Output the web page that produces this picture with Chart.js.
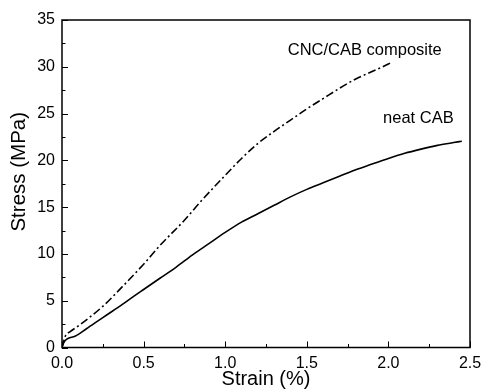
<!DOCTYPE html>
<html>
<head>
<meta charset="utf-8">
<script src="https://cdn.jsdelivr.net/npm/chart.js@4/dist/chart.umd.min.js"></script>
<style>
  html, body { margin: 0; padding: 0; background: #fff; }
  #wrap { width: 483px; height: 392px; }
</style>
</head>
<body>
<div id="wrap"><canvas id="myChart"></canvas></div>
<script>
// data
const neatStrain = [0, 0.01, 0.03, 0.08, 0.15, 0.25, 0.37, 0.45, 0.5, 0.6, 0.7, 0.8, 0.9, 1.0, 1.1, 1.2, 1.3, 1.4, 1.5, 1.6, 1.7, 1.8, 1.9, 2.0, 2.1, 2.2, 2.3, 2.4, 2.45];
const neatStress = [0, 0.5, 0.9, 1.2, 2.0, 3.2, 4.6, 5.6, 6.2, 7.4, 8.6, 9.9, 11.1, 12.3, 13.4, 14.3, 15.2, 16.1, 16.9, 17.6, 18.3, 19.0, 19.6, 20.2, 20.75, 21.2, 21.6, 21.9, 22.05];

const compStrain = [0, 0.02, 0.05, 0.1, 0.25, 0.37, 0.5, 0.6, 0.75, 0.85, 1.0, 1.1, 1.2, 1.3, 1.4, 1.5, 1.6, 1.7, 1.8, 1.9, 2.0, 2.02];
const compStress = [0, 1.2, 1.7, 2.3, 4.4, 6.5, 8.9, 10.9, 13.6, 15.6, 18.4, 20.2, 21.8, 23.1, 24.3, 25.5, 26.6, 27.7, 28.7, 29.5, 30.3, 30.5];

const xTicks = [0, 0.5, 1.0, 1.5, 2.0, 2.5];
const yTicks = [0, 5, 10, 15, 20, 25, 30, 35];

// curve labels: [text, strain, stress]
const curveLabels = [
    ["CNC/CAB composite", 2.327, 31.7],
    ["neat CAB", 2.40, 24.5]
];

const toPoints = (xs, ys) => xs.map((x, i) => ({ x: x, y: ys[i] }));

const font = "'Liberation Sans', Arial, sans-serif";

// frame, inward ticks, y title and curve labels
const framePlugin = {
    id: 'frame',
    afterDraw(chart) {
        const ctx = chart.ctx;
        const a = chart.chartArea;
        const xs = chart.scales.x;
        const ys = chart.scales.y;
        ctx.save();
        ctx.strokeStyle = '#000';
        ctx.lineWidth = 1.5;
        ctx.strokeRect(a.left, a.top, a.right - a.left, a.bottom - a.top);

        ctx.lineWidth = 1;
        ctx.beginPath();
        // x ticks, major every 0.5, minor in between
        for (let v = 0; v <= 2.5001; v += 0.25) {
            const px = Math.round(xs.getPixelForValue(v)) + 0.5;
            const len = Math.abs(v / 0.5 - Math.round(v / 0.5)) < 1e-6 ? 6 : 3.5;
            ctx.moveTo(px, a.bottom);
            ctx.lineTo(px, a.bottom - len);
        }
        // y ticks, major every 5, minor in between
        for (let v = 0; v <= 35.001; v += 2.5) {
            const py = Math.round(ys.getPixelForValue(v)) + 0.5;
            const len = Math.abs(v / 5 - Math.round(v / 5)) < 1e-6 ? 6 : 3.5;
            ctx.moveTo(a.left, py);
            ctx.lineTo(a.left + len, py);
        }
        ctx.stroke();

        ctx.fillStyle = '#000';
        ctx.font = '16.5px ' + font;
        ctx.textAlign = 'right';
        ctx.textBaseline = 'middle';
        curveLabels.forEach(l => {
            ctx.fillText(l[0], xs.getPixelForValue(l[1]), ys.getPixelForValue(l[2]));
        });

        // y axis title, sits a bit above the axis middle like the original
        ctx.translate(19, ys.getPixelForValue(17.5) - 12);
        ctx.rotate(-Math.PI / 2);
        ctx.textAlign = 'center';
        ctx.font = '20.5px ' + font;
        ctx.fillText('Stress (MPa)', 0, 0);
        ctx.restore();
    }
};

const data = {
    datasets: [{
        label: 'neat CAB',
        data: toPoints(neatStrain, neatStress),
        borderColor: '#000',
        borderWidth: 1.6,
        pointRadius: 0,
        showLine: true,
        cubicInterpolationMode: 'monotone'
    }, {
        label: 'CNC/CAB composite',
        data: toPoints(compStrain, compStress),
        borderColor: '#000',
        borderWidth: 1.6,
        borderDash: [8, 3, 2, 3],
        pointRadius: 0,
        showLine: true,
        cubicInterpolationMode: 'monotone'
    }]
};

const config = {
    type: 'scatter',
    data: data,
    options: {
        responsive: true,
        maintainAspectRatio: false,
        animation: false,
        layout: { padding: { top: 20, right: 13, left: 0, bottom: 1 } },
        plugins: { legend: { display: false }, tooltip: { enabled: false } },
        scales: {
            x: {
                type: 'linear',
                min: 0,
                max: 2.5,
                grid: { display: false, drawTicks: false },
                border: { display: false },
                afterBuildTicks: (scale) => { scale.ticks = xTicks.map(v => ({ value: v })); },
                afterFit: (scale) => {
                    scale.height = 43.5;
                    scale.paddingLeft = 0;
                    scale.paddingRight = 0;
                },
                ticks: {
                    color: '#000',
                    padding: 6,
                    font: { family: font, size: 16 },
                    maxRotation: 0,
                    callback: (v) => v.toFixed(1)
                },
                title: {
                    display: true,
                    text: 'Strain (%)',
                    color: '#000',
                    font: { family: font, size: 20 },
                    padding: { top: 0, bottom: 0 }
                }
            },
            y: {
                type: 'linear',
                min: 0,
                max: 35,
                grid: { display: false, drawTicks: false },
                border: { display: false },
                afterBuildTicks: (scale) => { scale.ticks = yTicks.map(v => ({ value: v })); },
                afterFit: (scale) => {
                    scale.width = 62;
                    scale.paddingTop = 0;
                    scale.paddingBottom = 0;
                },
                ticks: {
                    color: '#000',
                    padding: 7,
                    font: { family: font, size: 16 }
                }
            }
        }
    },
    plugins: [framePlugin]
};

const myChart = new Chart(document.getElementById('myChart'), config);
</script>
</body>
</html>
